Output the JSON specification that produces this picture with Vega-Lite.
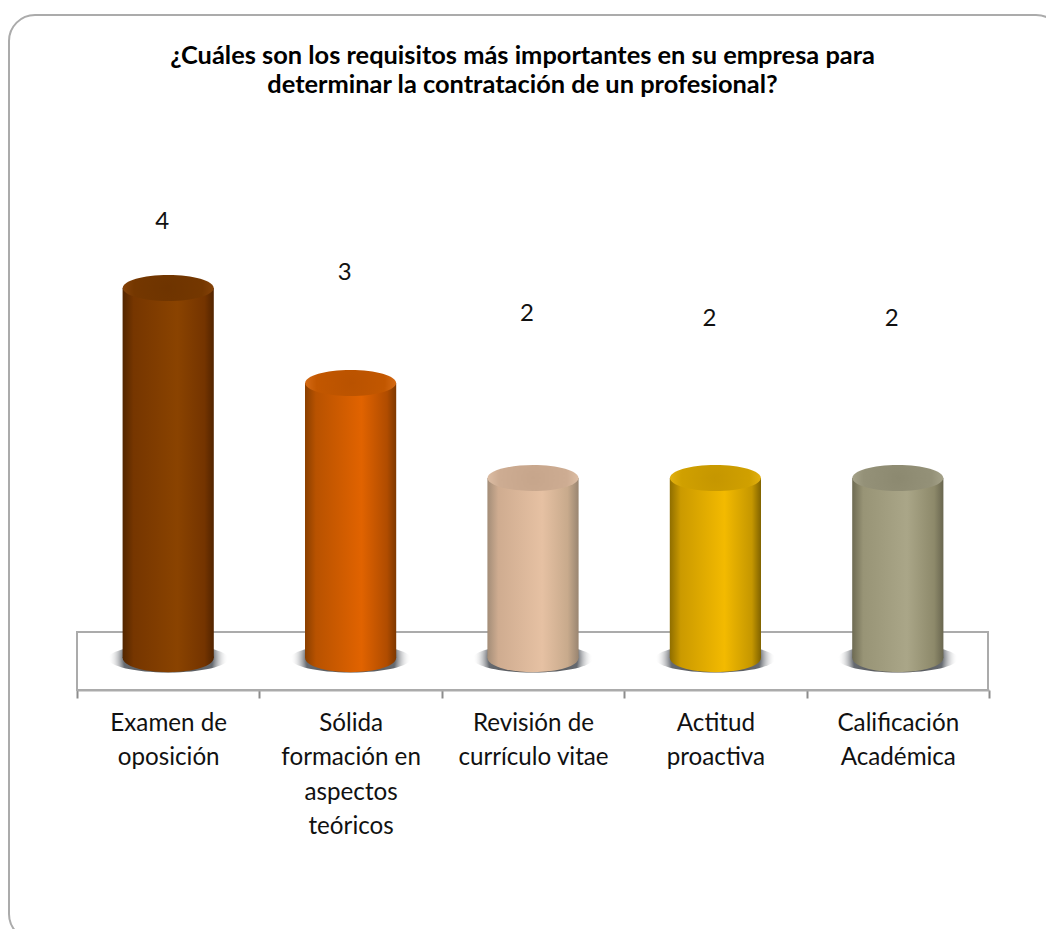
{
"$schema":"https://vega.github.io/schema/vega-lite/v6.json",
"autosize":{"type":"none"},
"padding":{"left":9,"top":15,"right":0,"bottom":0},
"width":1053,"height":925,
"background":"white",
"view":{"stroke":"#ababab","strokeWidth":2,"cornerRadius":26,"fill":"white"},
"title":{"text":["¿Cuáles son los requisitos más importantes en su empresa para","determinar la contratación de un profesional?"],"font":"Lato","fontSize":25.4,"fontWeight":"bold","color":"#000000","anchor":"middle","frame":"group","dx":-13,"offset":-108,"lineHeight":29,"baseline":"bottom"},
"datasets":{
"barras":[
{"categoria":"Examen de|oposición","valor":4,"etiqueta":4,"altura":4.695},
{"categoria":"Sólida|formación en|aspectos|teóricos","valor":3,"etiqueta":3,"altura":4.158},
{"categoria":"Revisión de|currículo vitae","valor":2,"etiqueta":2,"altura":3.726},
{"categoria":"Actitud|proactiva","valor":2,"etiqueta":2,"altura":3.674},
{"categoria":"Calificación|Académica","valor":2,"etiqueta":2,"altura":3.674}
],
"suelo":[{"desde":0,"hasta":1,"arriba":0.379,"abajo":-0.232}]
},
"layer":[
{"data":{"name":"suelo"},
"mark":{"type":"rect","fill":"white","stroke":"#ababab","strokeWidth":2},
"encoding":{
"x":{"field":"desde","type":"quantitative","scale":{"domain":[0,1],"range":[68,979]},"axis":null},
"x2":{"field":"hasta"},
"y":{"field":"arriba","type":"quantitative","scale":{"domain":[0,6],"range":[653,83],"zero":false,"nice":false},"axis":null},
"y2":{"field":"abajo"}
}},
{"data":{"name":"barras"},
"encoding":{
"x":{"field":"categoria","type":"nominal","sort":null,"scale":{"range":[68,980],"paddingInner":0,"paddingOuter":0},
"axis":{"title":null,"orient":"bottom","offset":-250,"labelAngle":0,"labelExpr":"split(datum.label,'|')","labelFont":"Lato","labelFontSize":24.2,"labelColor":"#111111","labelLineHeight":34.5,"labelPadding":13,"labelBaseline":"top","tickBand":"extent","tickSize":8,"tickColor":"#8c8c8c","tickWidth":2,"domainColor":"#ababab","domainWidth":2,"grid":false,"labelOverlap":false}}
},
"layer":[
{"mark":{"type":"point","shape":"M-1,0A1,0.233 0 1,1 1,0A1,0.233 0 1,1 -1,0Z","size":14400,"filled":true,"opacity":1,"strokeWidth":0,
"fill":{"gradient":"radial","x1":0.5,"y1":0.5,"r1":0,"x2":0.5,"y2":0.5,"r2":0.5,"stops":[{"offset":0,"color":"#4a4a4a"},{"offset":0.74,"color":"#666a70"},{"offset":1,"color":"rgba(255,255,255,0)"}]}},
"encoding":{"y":{"datum":0.1,"type":"quantitative"}}},
{"mark":{"type":"bar","strokeWidth":0,"width":{"band":0.5}},
"encoding":{
"y":{"field":"valor","type":"quantitative"},
"y2":{"datum":0.105},
"fill":{"condition":[
{"test":"datum.valor==4","value":{"gradient":"linear","x1":0,"y1":0,"x2":1,"y2":0,"stops":[{"offset":0,"color":"#532600"},{"offset":0.12,"color":"#763600"},{"offset":0.6,"color":"#8a4300"},{"offset":0.9,"color":"#743400"},{"offset":1,"color":"#522400"}]}},
{"test":"datum.valor==3","value":{"gradient":"linear","x1":0,"y1":0,"x2":1,"y2":0,"stops":[{"offset":0,"color":"#8a3f00"},{"offset":0.12,"color":"#b85200"},{"offset":0.62,"color":"#e16300"},{"offset":0.9,"color":"#b04c00"},{"offset":1,"color":"#7e3800"}]}},
{"test":"indexof(datum.categoria,'Revisi')==0","value":{"gradient":"linear","x1":0,"y1":0,"x2":1,"y2":0,"stops":[{"offset":0,"color":"#a38d78"},{"offset":0.12,"color":"#cfac90"},{"offset":0.6,"color":"#e6c1a3"},{"offset":0.88,"color":"#c8aa8c"},{"offset":1,"color":"#998571"}]}},
{"test":"indexof(datum.categoria,'Actitud')==0","value":{"gradient":"linear","x1":0,"y1":0,"x2":1,"y2":0,"stops":[{"offset":0,"color":"#8f6e00"},{"offset":0.12,"color":"#cb9a00"},{"offset":0.6,"color":"#f3ba00"},{"offset":0.9,"color":"#c59700"},{"offset":1,"color":"#806300"}]}}
],"value":{"gradient":"linear","x1":0,"y1":0,"x2":1,"y2":0,"stops":[{"offset":0,"color":"#6e6b53"},{"offset":0.12,"color":"#989476"},{"offset":0.6,"color":"#aaa688"},{"offset":0.9,"color":"#8d896a"},{"offset":1,"color":"#69664f"}]}}
}},
{"mark":{"type":"point","shape":"M-1,0A1,0.31 0 1,1 1,0A1,0.31 0 1,1 -1,0Z","size":8281,"filled":true,"opacity":1,"strokeWidth":0},
"encoding":{
"y":{"datum":0.105,"type":"quantitative"},
"fill":{"condition":[
{"test":"datum.valor==4","value":{"gradient":"linear","x1":0,"y1":0,"x2":1,"y2":0,"stops":[{"offset":0,"color":"#532600"},{"offset":0.12,"color":"#763600"},{"offset":0.6,"color":"#8a4300"},{"offset":0.9,"color":"#743400"},{"offset":1,"color":"#522400"}]}},
{"test":"datum.valor==3","value":{"gradient":"linear","x1":0,"y1":0,"x2":1,"y2":0,"stops":[{"offset":0,"color":"#8a3f00"},{"offset":0.12,"color":"#b85200"},{"offset":0.62,"color":"#e16300"},{"offset":0.9,"color":"#b04c00"},{"offset":1,"color":"#7e3800"}]}},
{"test":"indexof(datum.categoria,'Revisi')==0","value":{"gradient":"linear","x1":0,"y1":0,"x2":1,"y2":0,"stops":[{"offset":0,"color":"#a38d78"},{"offset":0.12,"color":"#cfac90"},{"offset":0.6,"color":"#e6c1a3"},{"offset":0.88,"color":"#c8aa8c"},{"offset":1,"color":"#998571"}]}},
{"test":"indexof(datum.categoria,'Actitud')==0","value":{"gradient":"linear","x1":0,"y1":0,"x2":1,"y2":0,"stops":[{"offset":0,"color":"#8f6e00"},{"offset":0.12,"color":"#cb9a00"},{"offset":0.6,"color":"#f3ba00"},{"offset":0.9,"color":"#c59700"},{"offset":1,"color":"#806300"}]}}
],"value":{"gradient":"linear","x1":0,"y1":0,"x2":1,"y2":0,"stops":[{"offset":0,"color":"#6e6b53"},{"offset":0.12,"color":"#989476"},{"offset":0.6,"color":"#aaa688"},{"offset":0.9,"color":"#8d896a"},{"offset":1,"color":"#69664f"}]}}
}},
{"mark":{"type":"point","shape":"M-1,0A1,0.286 0 1,1 1,0A1,0.286 0 1,1 -1,0Z","size":8281,"filled":true,"opacity":1,"strokeWidth":0},
"encoding":{
"y":{"field":"valor","type":"quantitative"},
"fill":{"condition":[
{"test":"datum.valor==4","value":{"gradient":"radial","x1":0.5,"y1":0.5,"r1":0,"x2":0.5,"y2":0.5,"r2":0.5,"stops":[{"offset":0,"color":"#6e3400"},{"offset":0.75,"color":"#743700"},{"offset":1,"color":"#844208"}]}},
{"test":"datum.valor==3","value":{"gradient":"radial","x1":0.5,"y1":0.5,"r1":0,"x2":0.5,"y2":0.5,"r2":0.5,"stops":[{"offset":0,"color":"#b95200"},{"offset":0.75,"color":"#c25700"},{"offset":1,"color":"#d46a14"}]}},
{"test":"indexof(datum.categoria,'Revisi')==0","value":{"gradient":"radial","x1":0.5,"y1":0.5,"r1":0,"x2":0.5,"y2":0.5,"r2":0.5,"stops":[{"offset":0,"color":"#c6a58b"},{"offset":0.75,"color":"#cdac92"},{"offset":1,"color":"#dcbda4"}]}},
{"test":"indexof(datum.categoria,'Actitud')==0","value":{"gradient":"radial","x1":0.5,"y1":0.5,"r1":0,"x2":0.5,"y2":0.5,"r2":0.5,"stops":[{"offset":0,"color":"#c59600"},{"offset":0.75,"color":"#d0a000"},{"offset":1,"color":"#e2b010"}]}}
],"value":{"gradient":"radial","x1":0.5,"y1":0.5,"r1":0,"x2":0.5,"y2":0.5,"r2":0.5,"stops":[{"offset":0,"color":"#8c8970"},{"offset":0.75,"color":"#949178"},{"offset":1,"color":"#a5a289"}]}}
}},
{"mark":{"type":"text","font":"Lato","fontSize":24,"color":"#111111","baseline":"middle","align":"center","dx":-6},
"encoding":{
"y":{"field":"altura","type":"quantitative"},
"text":{"field":"etiqueta","type":"quantitative"}
}}
]}
],
"resolve":{"scale":{"x":"independent"}}
}
